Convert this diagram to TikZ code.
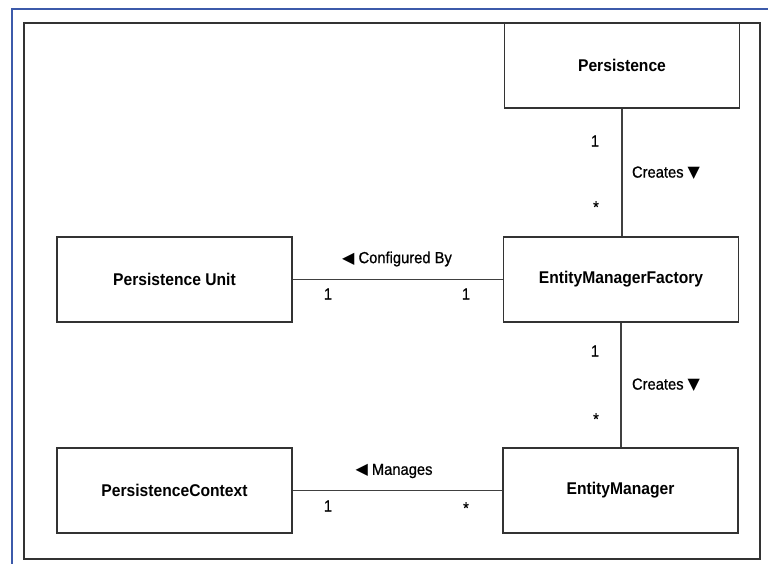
\documentclass[tikz,border=0pt]{standalone}
\usepackage{fontspec}
\setmainfont{Liberation Sans}
\newfontfamily\classfont[FakeStretch=0.92]{Liberation Sans Bold}
\newfontfamily\labelfont[FakeStretch=0.92, FakeBold=0.8]{Liberation Sans}
\newfontfamily\symfont{DejaVu Sans}
\usetikzlibrary{positioning}

\tikzset{
	classbox/.style={draw=black!80, line width=1.7pt, minimum width=235pt, minimum height=85pt, font=\classfont\fontsize{17}{20}\selectfont, inner sep=0pt},
	assoc/.style={draw=black!75, line width=1.7pt},
	mult/.style={font=\labelfont\fontsize{16}{19}\selectfont, inner sep=0pt},
	rolename/.style={font=\labelfont\fontsize{16}{19}\selectfont, inner sep=0pt},
}
\newcommand{\tridown}{{\symfont\fontsize{16}{18}\selectfont▼}}
\newcommand{\trileft}{{\symfont\fontsize{16}{18}\selectfont◀}}

\begin{document}
\begin{tikzpicture}[x=1pt, y=-1pt]
	% Page and frames:
	\useasboundingbox (0, 0) rectangle (768, 564);
	\fill[white] (0, 0) rectangle (768, 564);
	\draw[color={rgb,255:red,60;green,90;blue,170}, line width=2pt] (12, 564) -- (12, 9) -- (768, 9);
	\draw[black!80, line width=2pt] (24, 23) rectangle (760, 559);
	% Classes:
	\node[classbox] (persistence) at (622, 65.5) {Persistence};
	\node[classbox] (unit) at (174.5, 279.5) {Persistence Unit};
	\node[classbox] (factory) at (621, 279.5) {EntityManagerFactory};
	\node[classbox] (context) at (174.5, 490.5) {PersistenceContext};
	\node[classbox] (manager) at (620.5, 490.5) {EntityManager};
	% Associations:
	\draw[assoc] (persistence.south) -- (persistence.south |- factory.north);
	\draw[assoc] (unit.east) -- (factory.west);
	\draw[assoc] (factory.south) -- (factory.south |- manager.north);
	\draw[assoc] (context.east) -- (manager.west);
	% Labels:
	\node[mult] (m1) at (595, 141) {1};
	\node[mult] (m2) at (596, 207) {*};
	\node[rolename] (r1) at (666, 173) {Creates \tridown};
	\node[rolename] (r2) at (397, 259) {\trileft\ Configured By};
	\node[mult] (m3) at (328, 294) {1};
	\node[mult] (m4) at (466, 294) {1};
	\node[mult] (m5) at (595, 351) {1};
	\node[mult] (m6) at (596, 419) {*};
	\node[rolename] (r3) at (666, 385) {Creates \tridown};
	\node[rolename] (r4) at (394, 471) {\trileft\ Manages};
	\node[mult] (m7) at (328, 506) {1};
	\node[mult] (m8) at (466, 508) {*};
\end{tikzpicture}
\end{document}
